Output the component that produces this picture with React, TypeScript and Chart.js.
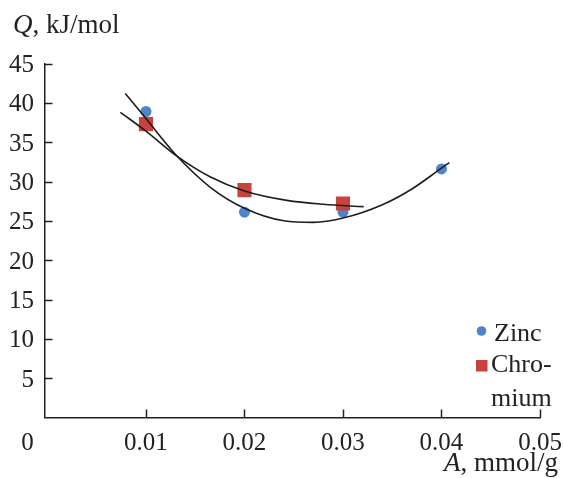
import React, { useEffect, useRef } from "react";
import { Chart, registerables } from "chart.js";

Chart.register(...registerables);

// Measured points
const zincX = [0.01, 0.02, 0.03, 0.04];
const zincY = [38.9, 26.1, 26.1, 31.6];
const chromX = [0.01, 0.02, 0.03];
const chromY = [37.3, 28.9, 27.2];

// Trend curves
const zincFitX = [0.0079, 0.01, 0.0131, 0.0165, 0.02, 0.024, 0.027, 0.03, 0.034, 0.037, 0.04, 0.0408];
const zincFitY = [41.2, 38.0, 33.3, 29.3, 26.6, 25.0, 24.8, 25.35, 27.05, 29.05, 31.7, 32.4];
const chromFitX = [0.0074, 0.01, 0.0131, 0.0165, 0.02, 0.0243, 0.028, 0.0321];
const chromFitY = [38.8, 36.4, 33.25, 30.6, 28.8, 27.6, 27.1, 26.8];

// Tick labels
const xTickValues = [0.01, 0.02, 0.03, 0.04, 0.05];
const xTickLabels = ["0.01", "0.02", "0.03", "0.04", "0.05"];
const yTickValues = [5, 10, 15, 20, 25, 30, 35, 40, 45];
const yTickLabels = ["5", "10", "15", "20", "25", "30", "35", "40", "45"];

const FONT = '"Liberation Serif", "Times New Roman", serif';
const INK = "#222222";

const toPts = (xs: number[], ys: number[]) => xs.map((x, i) => ({ x, y: ys[i] }));

const decorPlugin = {
  id: "decor",
  afterDraw(chart: any) {
    const ctx = chart.ctx as CanvasRenderingContext2D;
    const xs = chart.scales.x;
    const ys = chart.scales.y;
    const axisY = chart.chartArea.bottom;
    const axisX = chart.chartArea.left;
    ctx.save();
    ctx.strokeStyle = INK;
    ctx.lineWidth = 1.5;
    // inward ticks
    xTickValues.forEach((v) => {
      const px = Math.round(xs.getPixelForValue(v)) + 0.5;
      ctx.beginPath();
      ctx.moveTo(px, axisY);
      ctx.lineTo(px, axisY - 8);
      ctx.stroke();
    });
    yTickValues.forEach((v) => {
      const py = Math.round(ys.getPixelForValue(v)) + 0.5;
      ctx.beginPath();
      ctx.moveTo(axisX, py);
      ctx.lineTo(axisX + 8, py);
      ctx.stroke();
    });
    ctx.fillStyle = INK;
    ctx.font = `25px ${FONT}`;
    ctx.textBaseline = "alphabetic";
    ctx.textAlign = "center";
    xTickValues.forEach((v, i) => {
      ctx.fillText(xTickLabels[i], xs.getPixelForValue(v), 450);
    });
    ctx.fillText("0", 27.5, 450);
    ctx.textAlign = "right";
    yTickValues.forEach((v, i) => {
      ctx.fillText(yTickLabels[i], 34, ys.getPixelForValue(v) + 8.5);
    });
    // axis titles
    ctx.textAlign = "left";
    ctx.font = `italic 27px ${FONT}`;
    ctx.fillText("Q", 13, 33);
    const w = ctx.measureText("Q").width;
    ctx.font = `27px ${FONT}`;
    ctx.fillText(", kJ/mol", 13 + w, 33);

    ctx.textAlign = "right";
    ctx.font = `27px ${FONT}`;
    const rest = ", mmol/g";
    const rw = ctx.measureText(rest).width;
    ctx.fillText(rest, 558, 471);
    ctx.font = `italic 27px ${FONT}`;
    ctx.fillText("A", 558 - rw, 471);

    // legend
    ctx.fillStyle = "#4f83cc";
    ctx.beginPath();
    ctx.arc(481.5, 331, 4.8, 0, Math.PI * 2);
    ctx.fill();
    ctx.fillStyle = "#c8433e";
    ctx.fillRect(476, 360, 11.5, 11.5);
    ctx.fillStyle = INK;
    ctx.textAlign = "left";
    ctx.font = `26px ${FONT}`;
    ctx.fillText("Zinc", 494, 341);
    ctx.fillText("Chro-", 491, 372);
    ctx.fillText("mium", 491, 406);
    ctx.restore();
  },
};

export default function App() {
  const ref = useRef<HTMLCanvasElement>(null);
  useEffect(() => {
    if (!ref.current) return;
    const chart = new Chart(ref.current, {
      type: "scatter",
      data: {
        datasets: [
          {
            label: "Zinc fit",
            data: toPts(zincFitX, zincFitY),
            showLine: true,
            pointRadius: 0,
            borderColor: "#1e1e1e",
            borderWidth: 1.6,
            cubicInterpolationMode: "monotone",
            order: 0,
          },
          {
            label: "Chromium fit",
            data: toPts(chromFitX, chromFitY),
            showLine: true,
            pointRadius: 0,
            borderColor: "#1e1e1e",
            borderWidth: 1.6,
            cubicInterpolationMode: "monotone",
            order: 0,
          },
          {
            label: "Chromium",
            data: toPts(chromX, chromY),
            pointStyle: "rect",
            pointRadius: 10,
            backgroundColor: "#c8433e",
            borderWidth: 0,
            order: 1,
          },
          {
            label: "Zinc",
            data: toPts(zincX, zincY),
            pointStyle: "circle",
            pointRadius: 5.5,
            backgroundColor: "#4f83cc",
            borderWidth: 0,
            order: 2,
          },
        ],
      } as any,
      options: {
        responsive: false,
        animation: false,
        layout: { padding: { left: 44.5, right: 23, top: 63.5, bottom: 60.5 } },
        plugins: { legend: { display: false }, tooltip: { enabled: false } },
        scales: {
          x: {
            type: "linear",
            min: -0.0003,
            max: 0.05,
            ticks: { display: false },
            grid: { display: false, drawTicks: false },
            border: { display: true, color: INK, width: 1.5 },
            afterFit: (s: any) => {
              s.height = 0;
            },
          },
          y: {
            type: "linear",
            min: 0,
            max: 45,
            ticks: { display: false },
            grid: { display: false, drawTicks: false },
            border: { display: true, color: INK, width: 1.5 },
            afterFit: (s: any) => {
              s.width = 0;
            },
          },
        },
      } as any,
      plugins: [decorPlugin],
    });
    return () => chart.destroy();
  }, []);
  return (
    <div style={{ position: "fixed", left: 0, top: 0, width: 563, height: 478, background: "#fff" }}>
      <canvas ref={ref} width={563} height={478} style={{ display: "block" }} />
    </div>
  );
}
